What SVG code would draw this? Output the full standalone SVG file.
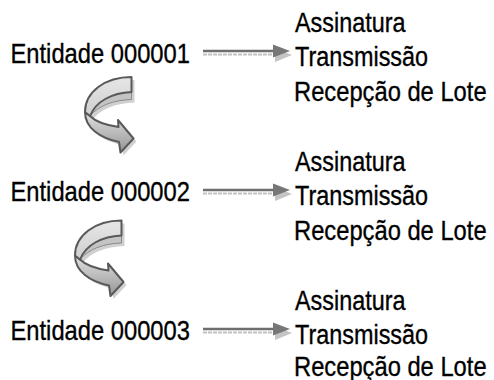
<svg xmlns="http://www.w3.org/2000/svg" xmlns:xlink="http://www.w3.org/1999/xlink" width="494" height="380" viewBox="0 0 494 380">
<style>
  text { font-family: "Liberation Sans", Arial, sans-serif; font-size: 28px; fill: #000; stroke: #000; stroke-width: 0.35; }
  .line { fill: none; stroke: #6e6e6e; stroke-width: 2.5; }
  .head { fill: #777777; }
  .sline { fill: none; stroke: #c2c2c2; stroke-width: 2; stroke-dasharray: 4 1; }
  .shead { fill: #c4c4c4; }
  .band { stroke: #595959; stroke-width: 2; stroke-linejoin: round; }
  .depth { fill: #c4c4c4; stroke: #8a8a8a; stroke-width: 1; }
  .cshadow { fill: #d0d0d0; }
</style>
<defs>
  <linearGradient id="gUpper" x1="0" y1="0" x2="0" y2="1">
    <stop offset="0" stop-color="#e6e6e6"/>
    <stop offset="1" stop-color="#cfcfcf"/>
  </linearGradient>
  <linearGradient id="gLower" x1="0" y1="0" x2="0" y2="1">
    <stop offset="0" stop-color="#e2e2e2"/>
    <stop offset="1" stop-color="#959595"/>
  </linearGradient>
  <g id="straightArrow">
    <path class="sline" d="M203,54.5 H278"/>
    <polygon class="shead" points="275,48 292,55 275,62"/>
    <path class="line" d="M203,51 H275"/>
    <polygon class="head" points="273,44.5 290,51 273,57.5"/>
  </g>
  <g id="curvedArrow">
    <path class="cshadow" transform="translate(3,3)" d="M131.5,77 C105,77 85,92 85,112 C85,128 100,138 119,142 L120.5,152.5 L133.5,138.5 L118,120 L118.5,127 C105,125 95,121 90,116 C98,106 113,100 131.5,99.5 Z"/>
    <path class="depth" d="M131.5,92 C112,93 96,101 90,116 C98,106 113,100 131.5,99.5 Z"/>
    <path class="band" fill="url(#gLower)" d="M85,112 C85,128 100,138 119,142 L120.5,152.5 L133.5,138.5 L118,120 L118.5,127 C105,125 95,121 90,116 Z"/>
    <path class="band" fill="url(#gUpper)" d="M131.5,77 C105,77 85,92 85,112 L90,116 C96,101 112,93 131.5,92 Z"/>
  </g>
</defs>

<g id="connectors">
  <use xlink:href="#straightArrow"/>
  <use xlink:href="#straightArrow" transform="translate(0,139)"/>
  <use xlink:href="#straightArrow" transform="translate(0,278)"/>
  <use xlink:href="#curvedArrow"/>
  <use xlink:href="#curvedArrow" transform="translate(-10,143.5)"/>
</g>

<g id="entidade1">
  <text transform="translate(10.5,62.5) scale(0.848,1)">Entidade 000001</text>
</g>
<g id="acoes1">
  <text transform="translate(295,31.5) scale(0.835,1)">Assinatura</text>
  <text transform="translate(295,66) scale(0.836,1)">Transmissão</text>
  <text transform="translate(294,100.5) scale(0.848,1)">Recepção de Lote</text>
</g>

<g id="entidade2">
  <text transform="translate(10.5,201) scale(0.848,1)">Entidade 000002</text>
</g>
<g id="acoes2">
  <text transform="translate(295,170.5) scale(0.835,1)">Assinatura</text>
  <text transform="translate(295,205) scale(0.836,1)">Transmissão</text>
  <text transform="translate(294,239.5) scale(0.848,1)">Recepção de Lote</text>
</g>

<g id="entidade3">
  <text transform="translate(10.5,339.5) scale(0.848,1)">Entidade 000003</text>
</g>
<g id="acoes3">
  <text transform="translate(295,309.5) scale(0.835,1)">Assinatura</text>
  <text transform="translate(295,344) scale(0.836,1)">Transmissão</text>
  <text transform="translate(294,376) scale(0.848,1)">Recepção de Lote</text>
</g>
</svg>
